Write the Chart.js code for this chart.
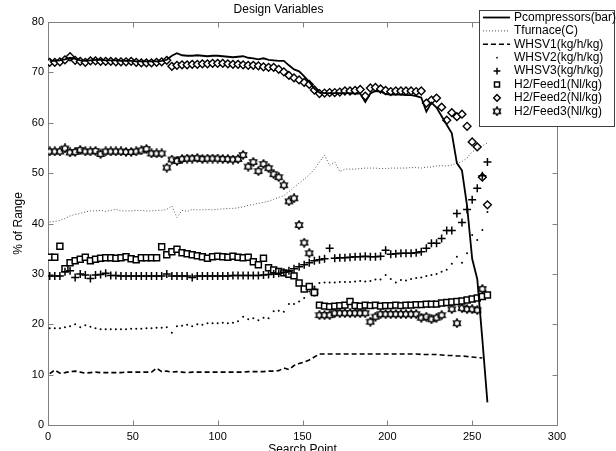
<!DOCTYPE html>
<html>
<head>
<meta charset="utf-8">
<script src="https://cdn.jsdelivr.net/npm/chart.js@4.4.1/dist/chart.umd.min.js"></script>
<style>
  html, body { margin: 0; padding: 0; background: #fff; }
</style>
</head>
<body>
<canvas id="chart" width="616" height="451"></canvas>
<script>
// search points (every third point of the run)
const searchPoints = [1,4,7,10,13,16,19,22,25,28, 31,34,37,40,43,46,49,52,55,58,
  61,64,67,70,73,76,79,82,85,88, 91,94,97,100,103,106,109,112,115,118,
  121,124,127,130,133,136,139,142,145,148, 151,154,157,160,163,166,169,172,175,178,
  181,184,187,190,193,196,199,202,205,208, 211,214,217,220,223,226,229,232,235,238,
  241,244,247,250,253,256,259];

const seriesLabels = ['Pcompressors(bar)', 'Tfurnace(C)', 'WHSV1(kg/h/kg)', 'WHSV2(kg/h/kg)',
  'WHSV3(kg/h/kg)', 'H2/Feed1(Nl/kg)', 'H2/Feed2(Nl/kg)', 'H2/Feed3(Nl/kg)'];

const pCompressors = [72.3,72.3,72.4,72.6,72.9,72.7,72.4,72.3,72.4,72.5,
  72.5,72.4,72.4,72.4,72.3,72.3,72.3,72.2,72.2,72.2,
  72.2,72.2,72.3,72.5,73.3,73.8,73.4,73.3,73.3,73.4,
  73.3,73.2,73.3,73.3,73.2,73.1,73.0,73.1,73.2,72.9,
  72.8,72.6,72.8,72.5,72.4,72.3,72.3,71.4,70.6,70.2,
  69.2,68.1,66.8,66.0,65.9,65.9,65.9,65.9,65.9,65.9,
  65.8,65.8,64.1,65.8,66.3,66.2,65.7,65.6,65.6,65.6,
  65.5,65.5,65.3,65.0,62.2,64.0,63.0,61.3,59.6,57.9,
  52.0,50.5,43.5,33.0,29.0,17.0,4.5];

const tFurnace = [40.3,40.4,40.6,41.0,41.5,41.8,42.0,42.3,42.5,42.5,
  42.6,42.4,42.6,42.8,42.5,42.5,42.5,42.6,42.6,42.5,
  42.5,42.6,42.6,42.8,43.5,41.2,42.6,42.4,42.8,42.7,
  42.7,42.8,42.7,42.8,42.9,43.0,43.0,43.1,43.3,43.6,
  43.8,44.0,44.2,44.4,44.8,45.2,45.5,46.3,47.2,48.0,
  48.8,49.7,50.8,52.2,53.6,51.5,52.2,50.3,50.8,50.8,
  50.8,50.9,51.0,51.0,51.0,50.9,50.9,51.0,51.0,51.0,
  51.0,51.1,51.1,51.0,51.2,51.2,51.4,51.5,51.4,51.6,
  52.0,52.3,53.0,54.2,54.8,55.4,56.0];

const whsv1 = [10.2,10.9,10.3,10.4,10.6,10.7,10.5,10.3,10.4,10.5,
  10.4,10.4,10.4,10.4,10.4,10.5,10.5,10.5,10.5,10.5,
  10.5,11.3,10.6,10.7,10.5,10.6,10.5,10.4,10.5,10.5,
  10.5,10.5,10.5,10.5,10.5,10.5,10.5,10.5,10.5,10.6,
  10.6,10.6,10.6,10.7,10.7,10.8,11.3,11.0,11.8,12.2,
  12.5,12.9,13.5,14.1,14.1,14.1,14.1,14.1,14.1,14.1,
  14.1,14.1,14.1,14.1,14.1,14.1,14.1,14.1,14.1,14.1,
  14.1,14.1,14.1,14.0,14.0,14.0,14.0,13.9,13.8,13.8,
  13.7,13.7,13.6,13.5,13.4,13.3,null];

const whsv2 = [19.2,19.2,19.2,19.4,19.6,20.0,19.4,19.8,19.5,19.2,
  19.0,19.0,19.0,19.0,19.0,19.0,19.1,19.1,19.1,19.2,
  19.2,19.3,19.3,19.4,18.3,19.6,19.7,19.9,19.6,20.0,
  19.9,20.2,20.2,20.2,20.3,20.2,20.3,20.6,21.5,21.0,
  21.2,20.8,21.3,21.2,22.6,22.7,22.5,24.0,24.0,24.5,
  25.2,26.5,27.5,28.2,28.3,28.3,28.3,28.4,28.4,28.4,
  28.5,28.6,28.5,28.6,28.9,28.9,29.8,29.0,28.3,28.8,
  28.7,29.0,29.2,29.3,29.6,29.8,30.0,30.4,30.8,32.0,
  33.4,32.2,34.1,37.7,36.7,38.7,42.3];

const whsv3 = [29.6,29.6,29.6,30.4,30.6,29.3,30.0,29.8,29.1,29.8,
  29.9,30.1,29.7,29.7,29.6,29.6,29.6,29.6,29.6,29.6,
  29.6,29.6,29.6,30.0,29.6,29.6,29.6,29.6,29.3,29.6,
  29.6,29.6,29.6,29.6,29.6,29.6,29.7,29.7,29.7,29.7,
  29.7,29.7,29.8,29.9,30.0,30.1,30.3,30.6,31.0,31.4,
  31.8,32.2,32.6,32.8,33.0,35.1,33.1,33.2,33.2,33.3,
  33.4,33.4,33.5,33.4,33.4,33.5,34.7,33.9,34.0,34.1,
  34.1,34.1,34.2,34.4,35.1,36.1,36.1,37.0,38.6,38.6,
  42.0,40.2,42.8,44.7,47.0,49.5,52.2];

const h2Feed1 = [33.3,33.3,35.5,31.0,32.2,32.6,32.9,33.3,32.6,32.9,
  33.1,33.2,33.2,33.1,33.2,33.4,33.0,32.8,33.2,33.2,
  33.2,33.2,35.4,33.8,34.4,34.9,34.2,34.0,33.8,33.6,
  33.4,33.1,33.4,33.5,33.4,33.3,33.5,33.3,33.2,33.3,
  32.4,31.8,33.1,31.2,30.8,30.5,30.2,29.9,29.6,28.2,
  27.0,27.5,26.3,23.8,23.6,23.5,23.6,23.7,23.8,24.5,
  23.7,23.6,23.8,23.7,23.8,23.6,23.7,23.7,23.8,23.7,
  23.8,23.8,23.9,23.9,24.0,24.0,24.0,24.2,24.3,24.4,
  24.5,24.6,24.8,25.0,25.2,25.5,25.8];

const h2Feed2 = [72.0,72.0,72.1,72.5,73.1,72.4,72.2,72.0,72.3,72.3,
  72.2,72.2,72.2,72.1,72.1,72.1,72.2,72.0,71.9,71.9,
  71.9,72.0,72.1,72.4,71.2,71.4,71.5,71.5,71.6,71.6,
  71.7,71.7,71.8,71.8,71.8,71.7,71.6,71.6,71.5,71.4,
  71.4,71.3,71.1,71.0,71.0,70.6,70.1,69.4,68.9,68.5,
  68.0,67.6,66.5,65.8,65.9,66.0,66.0,66.1,66.3,66.3,
  66.4,66.6,65.3,66.9,67.0,66.7,66.4,66.2,66.3,66.3,
  66.3,66.3,66.2,66.3,63.9,64.5,64.9,63.1,60.5,62.0,
  61.2,61.7,59.3,56.2,55.2,49.2,43.7];

const h2Feed3 = [54.3,54.3,54.3,54.9,54.1,54.2,54.6,54.3,54.3,54.4,
  53.8,54.3,54.3,54.3,54.3,54.2,54.2,54.3,54.5,54.8,
  53.9,53.9,53.9,51.1,52.7,52.4,52.8,52.9,52.9,53.0,
  52.8,52.9,52.9,52.9,52.8,52.8,52.7,52.8,53.6,51.3,
  52.2,50.4,51.8,51.0,49.8,49.2,47.6,44.4,45.0,39.7,
  36.2,34.1,26.5,21.8,21.8,21.8,22.2,22.2,22.2,22.2,
  22.2,22.2,22.2,20.5,21.5,22.0,22.0,22.0,22.0,22.0,
  22.0,22.0,22.0,21.3,21.5,21.0,21.3,21.8,null,23.0,
  20.2,23.2,23.0,23.0,22.8,27.0,null];

const xTicks = [0, 50, 100, 150, 200, 250, 300];
const yTicks = [0, 10, 20, 30, 40, 50, 60, 70, 80];

function pts(vals) {
  return searchPoints.map((x, i) => ({ x: x, y: vals[i] }));
}

// six pointed star marker (matlab 'h')
function hexagram() {
  const c = document.createElement('canvas');
  c.width = 10; c.height = 10;
  const g = c.getContext('2d');
  g.beginPath();
  for (let k = 0; k < 12; k++) {
    const r = k % 2 === 0 ? 4.0 : 2.5;
    const a = -Math.PI / 2 + k * Math.PI / 6;
    const px = 5 + r * Math.cos(a), py = 5 + r * Math.sin(a);
    if (k === 0) g.moveTo(px, py); else g.lineTo(px, py);
  }
  g.closePath();
  g.fillStyle = '#fff';
  g.fill();
  g.lineWidth = 1.5;
  g.strokeStyle = '#000';
  g.stroke();
  return c;
}

const FONT = '"Liberation Sans", Arial, Helvetica, sans-serif';
Chart.defaults.font.family = FONT;
Chart.defaults.font.size = 11;
Chart.defaults.color = '#000';

// box and inward tick marks like matlab axes
const frame = {
  id: 'frame',
  beforeDatasetsDraw(chart) {
    const { ctx, chartArea: a, scales } = chart;
    ctx.save();
    ctx.strokeStyle = '#808080';
    ctx.lineWidth = 1;
    const L = Math.round(a.left) + 0.5, R = Math.round(a.right) + 0.5;
    const T = Math.round(a.top) + 0.5, B = Math.round(a.bottom) + 0.5;
    ctx.strokeRect(L, T, R - L, B - T);
    ctx.beginPath();
    xTicks.forEach(v => {
      const px = Math.round(scales.x.getPixelForValue(v)) + 0.5;
      ctx.moveTo(px, B); ctx.lineTo(px, B - 5);
      ctx.moveTo(px, T); ctx.lineTo(px, T + 5);
    });
    yTicks.forEach(v => {
      const py = Math.round(scales.y.getPixelForValue(v)) + 0.5;
      ctx.moveTo(L, py); ctx.lineTo(L + 5, py);
      ctx.moveTo(R, py); ctx.lineTo(R - 5, py);
    });
    ctx.stroke();
    ctx.restore();
  }
};

const legendBox = {
  id: 'legendBox',
  afterDraw(chart) {
    const ctx = chart.ctx;
    const bx = 479, by = 10, bw = 136, bh = 116;
    ctx.save();
    ctx.fillStyle = '#fff';
    ctx.fillRect(bx, by, bw, bh);
    ctx.strokeStyle = '#404040';
    ctx.lineWidth = 1;
    ctx.strokeRect(bx + 0.5, by + 0.5, bw - 1, bh);
    ctx.font = '12px ' + FONT;
    ctx.textBaseline = 'middle';
    chart.data.datasets.forEach((ds, i) => {
      const yy = by + 7.5 + i * 13.4;
      ctx.fillStyle = '#000';
      ctx.fillText(ds.label, bx + 35, yy);
      if (ds.showLine !== false) {
        ctx.save();
        ctx.strokeStyle = ds.borderColor;
        ctx.lineWidth = ds.borderWidth;
        ctx.setLineDash(ds.borderDash || []);
        ctx.beginPath();
        ctx.moveTo(bx + 4, yy); ctx.lineTo(bx + 31, yy);
        ctx.stroke();
        ctx.restore();
      } else {
        ctx.save();
        ctx.fillStyle = ds.pointBackgroundColor;
        ctx.strokeStyle = ds.pointBorderColor;
        ctx.lineWidth = ds.pointBorderWidth;
        Chart.helpers.drawPoint(ctx, {
          pointStyle: ds.pointStyle, radius: ds.pointRadius * 0.85,
          borderWidth: ds.pointBorderWidth, rotation: 0
        }, bx + 18, yy);
        ctx.restore();
      }
    });
    ctx.restore();
  }
};

const markerSet = (style, r, bw, bg) => ({
  showLine: false, pointStyle: style, pointRadius: r,
  pointBorderWidth: bw, pointBorderColor: '#000', pointBackgroundColor: bg,
  borderColor: '#000', backgroundColor: bg
});

new Chart(document.getElementById('chart'), {
  type: 'line',
  data: {
    datasets: [
      { label: seriesLabels[0], data: pts(pCompressors), borderColor: '#000', borderWidth: 1.8, pointRadius: 0 },
      { label: seriesLabels[1], data: pts(tFurnace), borderColor: '#555', borderWidth: 1, borderDash: [1, 2], pointRadius: 0 },
      { label: seriesLabels[2], data: pts(whsv1), borderColor: '#000', borderWidth: 1.6, borderDash: [5, 3], pointRadius: 0 },
      Object.assign({ label: seriesLabels[3], data: pts(whsv2) }, markerSet('circle', 1, 0, '#000')),
      Object.assign({ label: seriesLabels[4], data: pts(whsv3) }, markerSet('cross', 4, 1.5, '#000')),
      Object.assign({ label: seriesLabels[5], data: pts(h2Feed1) }, markerSet('rect', 4.2, 1.5, '#fff')),
      Object.assign({ label: seriesLabels[6], data: pts(h2Feed2) }, markerSet('rectRot', 3.9, 1.4, '#fff')),
      Object.assign({ label: seriesLabels[7], data: pts(h2Feed3) }, markerSet(hexagram(), 4, 1.5, '#fff'))
    ]
  },
  options: {
    responsive: false,
    animation: false,
    devicePixelRatio: 1,
    events: [],
    elements: { line: { tension: 0, fill: false } },
    layout: { padding: { top: 0, right: 59, left: 0, bottom: 0 } },
    plugins: {
      legend: { display: false },
      tooltip: { enabled: false },
      title: {
        display: true, text: 'Design Variables',
        font: { size: 12, weight: 'normal' }, color: '#000',
        padding: { top: 2, bottom: 5.6 }
      }
    },
    scales: {
      x: {
        type: 'linear', min: 0, max: 300,
        afterBuildTicks: s => { s.ticks = xTicks.map(v => ({ value: v })); },
        ticks: { padding: 5, maxRotation: 0 },
        grid: { display: false, drawTicks: false },
        border: { display: false },
        title: { display: true, text: 'Search Point', font: { size: 12 }, padding: { top: 0, bottom: -6 } },
        afterFit: s => { s.height = 26; }
      },
      y: {
        type: 'linear', min: 0, max: 80,
        afterBuildTicks: s => { s.ticks = yTicks.map(v => ({ value: v })); },
        ticks: { padding: 4 },
        grid: { display: false, drawTicks: false },
        border: { display: false },
        title: { display: true, text: '% of Range', font: { size: 12 }, padding: { top: 11, bottom: 0 } },
        afterFit: s => { s.width = 48; }
      }
    }
  },
  plugins: [frame, legendBox]
});
</script>
</body>
</html>
